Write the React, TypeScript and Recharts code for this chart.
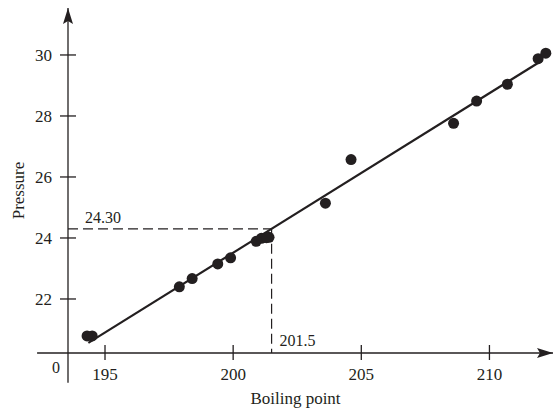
// Forbes: boiling point of water vs barometric pressure, with the fitted line

import {
  ReferenceDot,
  ReferenceLine,
  Scatter,
  ScatterChart,
  XAxis,
  YAxis,
} from "recharts";

const INK = "#231f20";
const FONT = "'Liberation Serif', 'Times New Roman', serif";

const boilingPoint = [194.5, 194.3, 197.9, 198.4, 199.4, 199.9, 200.9, 201.1, 201.4, 201.3, 203.6, 204.6, 209.5, 208.6, 210.7, 211.9, 212.2];
const pressure = [20.79, 20.79, 22.4, 22.67, 23.15, 23.35, 23.89, 23.99, 24.02, 24.01, 25.14, 26.57, 28.49, 27.76, 29.04, 29.88, 30.06];

// ends of the least-squares line
const fitX = [194.35, 212.05];
const fitY = [20.56, 29.82];

const xTicks = [195, 200, 205, 210];
const yTicks = [22, 24, 26, 28, 30];

const readX = 201.5;
const readY = 24.3;

// visible extent of the (broken) axes
const X_MIN = 193.556;
const X_MAX = 212.48;
const X_LINE_START = 192.35;
const Y_MIN = 20.229;
const Y_MAX = 31.54;
const Y_LINE_END = 19.25;

const points = boilingPoint.map((x, i) => ({ x, y: pressure[i] }));
const fit = fitX.map((x, i) => ({ x, y: fitY[i] }));

const Dot = (p: any) => <circle cx={p.cx} cy={p.cy} r={5.5} fill={INK} />;

const XTick = (p: any) => (
  <g>
    <line x1={p.x} x2={p.x} y1={p.y - 8} y2={p.y + 7} stroke={INK} strokeWidth={1.3} />
    <text x={p.x} y={p.y + 21} dy="0.35em" textAnchor="middle" fontSize={17} fontFamily={FONT} fill={INK}>
      {p.payload.value}
    </text>
  </g>
);

const YTick = (p: any) => (
  <g>
    <line x1={p.x - 8} x2={p.x + 8} y1={p.y} y2={p.y} stroke={INK} strokeWidth={1.3} />
    <text x={p.x - 16} y={p.y} dy="0.35em" textAnchor="end" fontSize={17} fontFamily={FONT} fill={INK}>
      {p.payload.value}
    </text>
  </g>
);

const arrowUp = (p: any) => (
  <path d={`M${p.cx},${p.cy} L${p.cx - 5},${p.cy + 16} L${p.cx},${p.cy + 13} L${p.cx + 5},${p.cy + 16} Z`} fill={INK} />
);
const arrowRight = (p: any) => (
  <path d={`M${p.cx},${p.cy} L${p.cx - 16},${p.cy - 5} L${p.cx - 13},${p.cy} L${p.cx - 16},${p.cy + 5} Z`} fill={INK} />
);

const note = (text: string, dx: number, dy: number) => (p: any) => (
  <text x={p.cx + dx} y={p.cy + dy} dy="0.35em" fontSize={16} fontFamily={FONT} fill={INK}>
    {text}
  </text>
);

export default function App() {
  return (
    <div style={{ position: "absolute", left: 0, top: 0, background: "#fff" }}>
      <ScatterChart width={554} height={409} margin={{ top: 8, right: 1, bottom: 0, left: 0 }}>
        <XAxis
          type="number"
          dataKey="x"
          domain={[X_MIN, X_MAX]}
          allowDataOverflow
          ticks={xTicks}
          tick={XTick}
          tickLine={false}
          axisLine={false}
          tickSize={0}
          tickMargin={0}
          height={56}
          label={{
            content: (p: any) => (
              <text x={p.viewBox.x + p.viewBox.width / 2 - 15} y={398} dy="0.35em" textAnchor="middle" fontSize={17} fontFamily={FONT} fill={INK}>
                Boiling point
              </text>
            ),
          }}
        />
        <YAxis
          type="number"
          dataKey="y"
          domain={[Y_MIN, Y_MAX]}
          allowDataOverflow
          ticks={yTicks}
          tick={YTick}
          tickLine={false}
          axisLine={false}
          tickSize={0}
          tickMargin={0}
          width={68}
          label={{
            content: (p: any) => (
              <text
                x={18}
                y={p.viewBox.y + p.viewBox.height / 2 + 10}
                dy="0.35em"
                textAnchor="middle"
                fontSize={17}
                fontFamily={FONT}
                fill={INK}
                transform={`rotate(-90 18 ${p.viewBox.y + p.viewBox.height / 2 + 10})`}
              >
                Pressure
              </text>
            ),
          }}
        />

        {/* axes */}
        <ReferenceLine segment={[{ x: X_LINE_START, y: Y_MIN }, { x: X_MAX, y: Y_MIN }]} stroke={INK} strokeWidth={1.3} ifOverflow="visible" />
        <ReferenceLine segment={[{ x: X_MIN, y: Y_LINE_END }, { x: X_MIN, y: Y_MAX }]} stroke={INK} strokeWidth={1.3} ifOverflow="visible" />
        <ReferenceDot x={X_MIN} y={Y_MAX} ifOverflow="visible" shape={arrowUp} />
        <ReferenceDot x={X_MAX} y={Y_MIN} ifOverflow="visible" shape={arrowRight} />
        <ReferenceDot x={X_MIN} y={Y_MIN} ifOverflow="visible" shape={note("0", -16, 14)} />

        {/* reading off the fitted line */}
        <ReferenceLine segment={[{ x: X_MIN, y: readY }, { x: readX, y: readY }]} stroke={INK} strokeWidth={1.2} strokeDasharray="10 5" />
        <ReferenceLine segment={[{ x: readX, y: readY }, { x: readX, y: Y_MIN }]} stroke={INK} strokeWidth={1.2} strokeDasharray="10 5" />
        <ReferenceDot x={X_MIN} y={readY} ifOverflow="visible" shape={note("24.30", 17, -11)} />
        <ReferenceDot x={readX} y={Y_MIN} ifOverflow="visible" shape={note("201.5", 8, -13)} />

        <Scatter data={fit} line={{ stroke: INK, strokeWidth: 2.2 }} lineType="joint" shape={() => <g />} isAnimationActive={false} />
        <Scatter data={points} shape={Dot} isAnimationActive={false} />
      </ScatterChart>
    </div>
  );
}
